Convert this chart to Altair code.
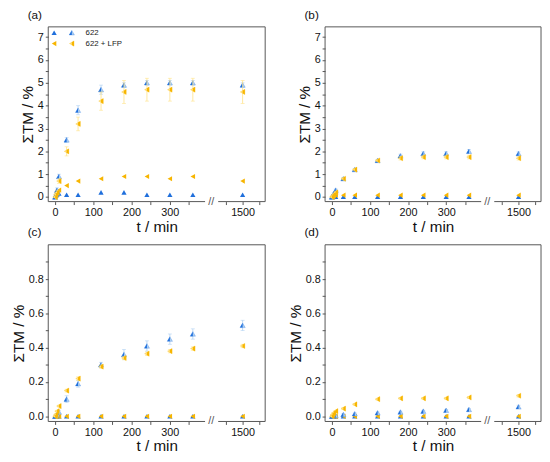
import altair as alt
import pandas as pd

# ---------------- data ----------------
T = [0, 2, 5, 10, 30, 60, 120, 180, 240, 300, 360, 1500]

a_622_full = [0.0, 0.05, 0.1, 0.15, 0.1, 0.1, 0.2, 0.2, 0.1, 0.1, 0.1, 0.1]
a_622_half = [0.0, 0.1, 0.3, 0.9, 2.5, 3.8, 4.7, 4.9, 5.0, 5.0, 5.0, 4.9]
a_622_err = [0.02, 0.05, 0.1, 0.1, 0.1, 0.2, 0.2, 0.1, 0.1, 0.1, 0.1, 0.1]
a_lfp_full = [0.0, 0.1, 0.2, 0.3, 0.5, 0.7, 0.8, 0.9, 0.9, 0.8, 0.9, 0.7]
a_lfp_half = [0.0, 0.1, 0.2, 0.7, 2.0, 3.2, 4.2, 4.6, 4.7, 4.7, 4.7, 4.6]
a_lfp_err = [0.02, 0.05, 0.1, 0.1, 0.2, 0.3, 0.4, 0.5, 0.5, 0.5, 0.5, 0.5]

b_622_full = [0.0, 0.0, 0.01, 0.01, 0.01, 0.01, 0.01, 0.01, 0.01, 0.01, 0.01, 0.01]
b_622_half = [0.0, 0.05, 0.15, 0.3, 0.8, 1.2, 1.6, 1.8, 1.9, 1.9, 2.0, 1.9]
b_622_err = [0.02, 0.03, 0.05, 0.05, 0.05, 0.05, 0.05, 0.08, 0.08, 0.08, 0.08, 0.08]
b_lfp_full = [0.0, 0.03, 0.05, 0.08, 0.08, 0.08, 0.08, 0.08, 0.08, 0.08, 0.08, 0.08]
b_lfp_half = [0.0, 0.05, 0.1, 0.2, 0.8, 1.2, 1.6, 1.7, 1.75, 1.75, 1.75, 1.7]
b_lfp_err = [0.02, 0.03, 0.05, 0.05, 0.05, 0.05, 0.05, 0.08, 0.08, 0.08, 0.08, 0.08]

c_622_full = [0.0] * 12
c_622_half = [0.0, 0.005, 0.01, 0.025, 0.10, 0.19, 0.30, 0.36, 0.41, 0.45, 0.48, 0.53]
c_622_err = [0.002, 0.005, 0.005, 0.01, 0.02, 0.02, 0.015, 0.03, 0.03, 0.03, 0.03, 0.03]
c_lfp_full = [0.0] * 12
c_lfp_half = [0.0, 0.01, 0.03, 0.06, 0.15, 0.22, 0.29, 0.34, 0.365, 0.38, 0.395, 0.41]
c_lfp_err = [0.002, 0.005, 0.005, 0.005, 0.008, 0.01, 0.01, 0.01, 0.01, 0.01, 0.01, 0.01]

d_622_full = [0.0] * 12
d_622_half = [0.0, 0.002, 0.003, 0.005, 0.01, 0.015, 0.02, 0.025, 0.03, 0.035, 0.04, 0.055]
d_622_err = [0.002, 0.002, 0.003, 0.003, 0.005, 0.005, 0.005, 0.005, 0.005, 0.005, 0.005, 0.01]
d_lfp_full = [0.0] * 12
d_lfp_half = [0.0, 0.01, 0.02, 0.03, 0.045, 0.07, 0.10, 0.105, 0.105, 0.105, 0.11, 0.12]
d_lfp_err = [0.002, 0.003, 0.003, 0.004, 0.005, 0.005, 0.005, 0.005, 0.005, 0.005, 0.005, 0.008]

X_TICKS = [0, 50, 100, 150, 200, 250, 300, 350, 1400, 1500, 1600]
X_LABELS = [0, 100, 200, 300, 1500]
SERIES = ["622", "622 + LFP"]

# ---------------- style ----------------
FONT = "Liberation Sans"
BLUE, BLUE_L = "#1f6fdc", "#aed0f2"
YEL, YEL_L = "#f7b500", "#ffe285"
GREY = "#555555"
TRI_UP = "M0,-0.9L1,0.85L-1,0.85Z"
TRI_UP_HALF = "M0,-0.9L0,0.85L-1,0.85Z"
TRI_LEFT = "M-0.9,0L0.85,-1L0.85,1Z"
TRI_LEFT_HALF = "M0,-0.51L0.85,-1L0.85,1L0,0.51Z"
MS = 28

XD = [-18, 408, 1312, 1635]
GAP = [392, 1354]


def panel(tag, data, ydom, yticks, ylabexpr, W, H, legend=False):
    bpx = W * 166.0 / 221.0
    xs = alt.Scale(domain=XD, range=[0, bpx, bpx, W])
    ys = alt.Scale(domain=ydom, nice=False, zero=False)
    lab_expr = " || ".join(f"datum.value == {v}" for v in X_LABELS)
    xax = alt.Axis(values=X_TICKS, labelExpr=f"({lab_expr}) ? format(datum.value, 'd') : ''",
                   title="t / min", grid=False, domain=False, labelOverlap=False, labelFlush=False)
    yax = alt.Axis(values=yticks, labelExpr=ylabexpr, title="ΣTM / %", grid=False,
                   domain=False, labelOverlap=False, labelFlush=False)

    def X(f="t"):
        return alt.X(f"{f}:Q", scale=xs, axis=xax)

    def Y(f="v"):
        return alt.Y(f"{f}:Q", scale=ys, axis=yax)

    layers = []
    # frame
    frame = alt.Chart(pd.DataFrame({"k": [0]}))
    layers.append(frame.mark_rule(color=GREY, strokeWidth=1).encode(
        x=alt.value(0), x2=alt.value(W), y=alt.value(0)))
    layers.append(frame.mark_rule(color=GREY, strokeWidth=1).encode(
        x=alt.value(0), y=alt.value(0), y2=alt.value(H)))
    layers.append(frame.mark_rule(color=GREY, strokeWidth=1).encode(
        x=alt.value(W), y=alt.value(0), y2=alt.value(H)))
    seg = pd.DataFrame({"t": [XD[0], GAP[1]], "t2": [GAP[0], XD[3]]})
    layers.append(alt.Chart(seg).mark_rule(color=GREY, strokeWidth=1).encode(
        x=X(), x2="t2:Q", y=alt.value(H)))
    brk = pd.DataFrame({"t": [XD[1]]})
    layers.append(alt.Chart(brk).mark_text(text="//", font=FONT, fontSize=11, color=GREY,
                                           baseline="middle").encode(x=X(), y=alt.value(H)))

    styles = {
        ("622", "full"): (TRI_UP, None),
        ("622", "half"): (TRI_UP, TRI_UP_HALF),
        ("622 + LFP", "full"): (TRI_LEFT, None),
        ("622 + LFP", "half"): (TRI_LEFT, TRI_LEFT_HALF),
    }
    colors = {"622": (BLUE, BLUE_L), "622 + LFP": (YEL, YEL_L)}

    order = [("622", "full"), ("622 + LFP", "full"), ("622", "half"), ("622 + LFP", "half")]
    for key in order:
        vals, errs = data[key]
        dark, light = colors[key[0]]
        df = pd.DataFrame({"t": T, "v": vals})
        if errs is not None:
            df["lo"] = [v - e for v, e in zip(vals, errs)]
            df["hi"] = [v + e for v, e in zip(vals, errs)]
            ec = light
            ch = alt.Chart(df)
            layers.append(ch.mark_rule(color=ec, strokeWidth=0.8).encode(
                x=X(), y=Y("lo"), y2="hi:Q"))
            layers.append(ch.mark_tick(color=ec, orient="horizontal", size=4, thickness=0.8).encode(
                x=X(), y=Y("lo")))
            layers.append(ch.mark_tick(color=ec, orient="horizontal", size=4, thickness=0.8).encode(
                x=X(), y=Y("hi")))
        full_shape, half_shape = styles[key]
        ch = alt.Chart(df)
        if half_shape is None:
            layers.append(ch.mark_point(shape=full_shape, filled=True, color=dark, opacity=1,
                                        size=MS).encode(x=X(), y=Y()))
        else:
            layers.append(ch.mark_point(shape=full_shape, filled=True, color=light, opacity=1,
                                        size=MS, stroke=dark, strokeWidth=0.3).encode(x=X(), y=Y()))
            layers.append(ch.mark_point(shape=half_shape, filled=True, color=dark, opacity=1,
                                        size=MS).encode(x=X(), y=Y()))

    if legend:
        for i, s in enumerate(SERIES):
            dark, light = colors[s]
            yy = 6 + 11 * i
            full_shape, _ = styles[(s, "full")]
            _, half_shape = styles[(s, "half")]
            layers.append(frame.mark_point(shape=full_shape, filled=True, color=dark, opacity=1,
                                           size=MS).encode(x=alt.value(6), y=alt.value(yy)))
            layers.append(frame.mark_point(shape=full_shape, filled=True, color=light, opacity=1,
                                           size=MS, stroke=dark, strokeWidth=0.3).encode(
                x=alt.value(24), y=alt.value(yy)))
            layers.append(frame.mark_point(shape=half_shape, filled=True, color=dark, opacity=1,
                                           size=MS).encode(x=alt.value(24), y=alt.value(yy)))
            layers.append(frame.mark_text(text=s, font=FONT, fontSize=8, align="left",
                                          baseline="middle", color="#222222").encode(
                x=alt.value(38), y=alt.value(yy)))

    return alt.layer(*layers).properties(
        width=W, height=H,
        title=alt.TitleParams(tag, anchor="start", frame="group", dx=-21, offset=5,
                              fontSize=12, fontWeight="normal", font=FONT, color="#111111"),
    )


def mk(full622, half622, err622, fulllfp, halflfp, errlfp):
    return {
        ("622", "full"): (full622, None),
        ("622", "half"): (half622, err622),
        ("622 + LFP", "full"): (fulllfp, None),
        ("622 + LFP", "half"): (halflfp, errlfp),
    }


Y_TOP = [i * 0.5 for i in range(15)]
Y_TOP_EXPR = "datum.value % 1 == 0 ? format(datum.value, 'd') : ''"
Y_BOT = [round(i * 0.1, 1) for i in range(10)]
Y_BOT_EXPR = "round(datum.value * 10) % 2 == 0 ? format(datum.value, '.1f') : ''"

pa = panel("(a)", mk(a_622_full, a_622_half, a_622_err, a_lfp_full, a_lfp_half, a_lfp_err),
           [-0.2, 7.45], Y_TOP, Y_TOP_EXPR, 221, 178, legend=True)
pb = panel("(b)", mk(b_622_full, b_622_half, b_622_err, b_lfp_full, b_lfp_half, b_lfp_err),
           [-0.2, 7.45], Y_TOP, Y_TOP_EXPR, 220, 178)
pc = panel("(c)", mk(c_622_full, c_622_half, c_622_err, c_lfp_full, c_lfp_half, c_lfp_err),
           [-0.03, 1.0], Y_BOT, Y_BOT_EXPR, 221, 180)
pd_ = panel("(d)", mk(d_622_full, d_622_half, d_622_err, d_lfp_full, d_lfp_half, d_lfp_err),
            [-0.03, 1.0], Y_BOT, Y_BOT_EXPR, 220, 180)

chart = alt.concat(pa, pb, pc, pd_, columns=2, spacing={"row": 44, "column": 61},
                   bounds="flush").properties(
    padding={"left": 3, "top": -4, "right": 0, "bottom": 0}
).configure_view(stroke=None).configure_axis(
    labelFont=FONT, titleFont=FONT, labelFontSize=11, titleFontSize=15.5,
    titleFontWeight="normal", labelColor="#111111", titleColor="#111111",
    tickColor=GREY, tickSize=3, tickWidth=1, labelPadding=2, titlePadding=2,
)

chart.save("out.html", embed_options={"renderer": "svg", "actions": False})
